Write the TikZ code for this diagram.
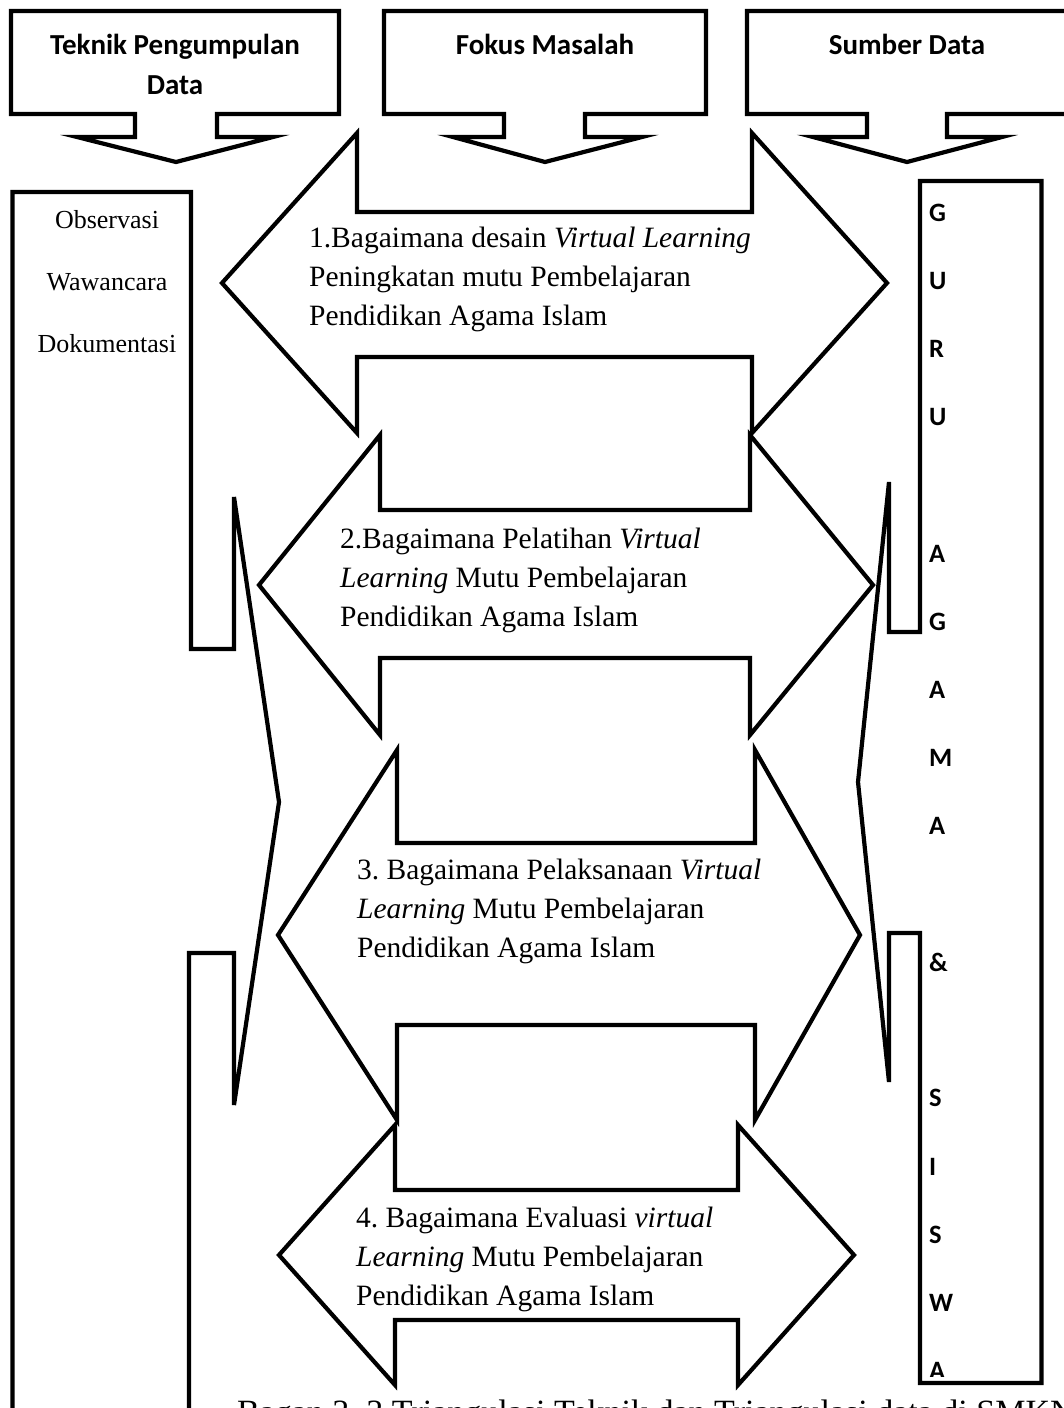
\documentclass[tikz,border=0pt]{standalone}
\usepackage{fontspec}
\setmainfont{Liberation Serif}
\newfontfamily\calibri{Carlito}
\frenchspacing

\begin{document}
\begin{tikzpicture}[x=1pt,y=-1pt,line width=4.2pt,
        blok/.style={draw=black,line join=miter},
        judul/.style={font=\calibri\bfseries\fontsize{29}{40}\selectfont,align=center,anchor=north,inner sep=0pt},
        teknik/.style={font=\fontsize{26}{30}\selectfont,anchor=base,inner sep=0pt},
        tanya/.style={font=\fontsize{29.5}{39}\selectfont,align=left,anchor=north west,inner sep=0pt},
        huruf/.style={font=\calibri\bfseries\fontsize{26.5}{30}\selectfont,anchor=west,inner sep=0pt}]
        \useasboundingbox (0,0) rectangle (1064,1408);
        \foreach \xl/\xr/\sl/\sr/\wl/\wr/\xt in {11/339/135/217/77/273/176, 384/706/504/585/453/642/545, 747/1067/867/947/813/1002/907}
            \draw[blok] (\xl,11) -- (\xr,11) -- (\xr,114) -- (\sr,114) -- (\sr,137) -- (\wr,137) -- (\xt,162) -- (\wl,137) -- (\sl,137) -- (\sl,114) -- (\xl,114) -- cycle;
        \node[judul] (teknik) at (175,24) {\strut Teknik Pengumpulan\\Data};
        \node[judul] (fokus) at (545,24) {\strut Fokus Masalah};
        \node[judul] (sumber) at (907,24) {\strut Sumber Data};
        \draw[blok] (12.5,192) -- (191,192) -- (191,649) -- (234,649) -- (234,497) -- (279,802) -- (234,1105) -- (234,953) -- (189,953) -- (189,1430) -- (12.5,1430) -- cycle;
        \foreach \t/\y [count=\i] in {Observasi/228,Wawancara/290,Dokumentasi/352}
            \node[teknik] (tek\i) at (107,\y) {\t};
        \draw[blok] (920,181) -- (1041.5,181) -- (1041.5,1383) -- (920,1383) -- (920,933) -- (889,933) -- (889,1082) -- (858,782) -- (889,482) -- (889,632) -- (920,632) -- cycle;
        \begin{scope}
            \clip (922,183) rectangle (1040,1376);
            \foreach \h/\k in {G/0,U/1,R/2,U/3,A/5,G/6,A/7,M/8,A/9,\&/11,S/13,I/14,S/15,W/16,A/17}
                \node[huruf] (h\k) at (927,{213+68.1*\k}) {\h};
        \end{scope}
        \foreach \xa/\xb/\xc/\xd/\ya/\yb/\yc/\yd in {222/357/752/887/133/212/357/433, 259/380/750/873/435/510/658/735, 278/397/755/860/750/843/1025/1120, 279/395/738/854/1125/1190/1320/1385}
            \draw[blok] (\xa,{(\ya+\yd)/2}) -- (\xb,\ya) -- (\xb,\yb) -- (\xc,\yb) -- (\xc,\ya) -- (\xd,{(\ya+\yd)/2}) -- (\xc,\yd) -- (\xc,\yc) -- (\xb,\yc) -- (\xb,\yd) -- cycle;
        \node[tanya] (tanya1) at (307,217.7) {\strut 1.Bagaimana desain \textit{Virtual Learning}\\Peningkatan mutu Pembelajaran\\Pendidikan Agama Islam};
        \node[tanya] (tanya2) at (338,518.7) {\strut 2.Bagaimana Pelatihan \textit{Virtual}\\\textit{Learning} Mutu Pembelajaran\\Pendidikan Agama Islam};
        \node[tanya] (tanya3) at (355,849.7) {\strut 3. Bagaimana Pelaksanaan \textit{Virtual}\\\textit{Learning} Mutu Pembelajaran\\Pendidikan Agama Islam};
        \node[tanya] (tanya4) at (354,1197.7) {\strut 4. Bagaimana Evaluasi \textit{virtual}\\\textit{Learning} Mutu Pembelajaran\\Pendidikan Agama Islam};
        \node[anchor=base west,font=\fontsize{34}{40}\selectfont,inner sep=0pt] (bagan) at (235,1423) {Bagan 3. 3 Triangulasi Teknik dan Triangulasi data di SMKN};
    \end{tikzpicture}
\end{document}
